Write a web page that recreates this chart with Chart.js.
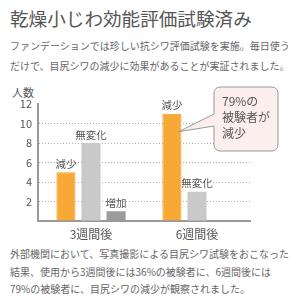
<!DOCTYPE html>
<html>
<head>
<meta charset="utf-8">
<script src="https://cdn.jsdelivr.net/npm/chart.js@4"></script>
<style>
  body { margin: 0; width: 300px; height: 302px; background: #fff; position: relative; overflow: hidden;
         font-family: "Noto Sans CJK JP", sans-serif; color: #666; }
  .t { position: absolute; white-space: nowrap; }
  #title { left: 10px; top: 5px; font-size: 18.6px; color: #555; line-height: 26px; }
  #lead { left: 10px; top: 36px; font-size: 10px; line-height: 20px; }
  #unit { left: 12px; top: 84px; font-size: 11px; color: #555; }
  #foot { left: 10px; top: 245px; font-size: 10px; line-height: 17.5px; }
  #wrap { position: absolute; left: 0; top: 80px; width: 300px; height: 165px; }
</style>
</head>
<body>
<div class="t" id="title">乾燥小じわ効能評価試験済み</div>
<div class="t" id="lead">ファンデーションでは珍しい抗シワ評価試験を実施。毎日使う<br>だけで、目尻シワの減少に効果があることが実証されました。</div>
<div class="t" id="unit">人数</div>
<div id="wrap"><canvas id="bars"></canvas></div>
<div class="t" id="foot">外部機関において、写真撮影による目尻シワ試験をおこなった<br>結果、使用から3週間後には36%の被験者に、6週間後には<br>79%の被験者に、目尻シワの減少が観察されました。</div>
<script>
var periods = ['3週間後', '6週間後'];
var seriesNames = ['減少', '無変化', '増加'];
var decreased = [5, 11];
var unchanged = [8, 3];
var increased = [1, 0];
var yTicks = [0, 2, 4, 6, 8, 10, 12];
var calloutLines = ['79%の', '被験者が', '減少'];

var barLabels = {
    id: 'barLabels',
    afterDatasetsDraw: function(chart) {
        var ctx = chart.ctx;
        ctx.save();
        ctx.font = '10.5px "Noto Sans CJK JP"';
        ctx.fillStyle = '#555';
        ctx.textAlign = 'center';
        ctx.textBaseline = 'bottom';
        chart.data.datasets.forEach(function(ds, i) {
            chart.getDatasetMeta(i).data.forEach(function(bar, j) {
                if (ds.data[j] > 0) ctx.fillText(ds.label, bar.x, bar.y - 3);
            });
        });
        ctx.restore();
    }
};

var callout = {
    id: 'callout',
    afterDraw: function(chart) {
        var bar = chart.getDatasetMeta(0).data[1];
        var ctx = chart.ctx;
        var tipX = bar.x + bar.width / 2 - 3, tipY = bar.y + 18;
        var x = 214, y = 7, w = 64, h = 64, r = 6;
        ctx.save();
        ctx.beginPath();
        ctx.moveTo(x + r, y);
        ctx.lineTo(x + w - r, y);
        ctx.arcTo(x + w, y, x + w, y + r, r);
        ctx.lineTo(x + w, y + h - r);
        ctx.arcTo(x + w, y + h, x + w - r, y + h, r);
        ctx.lineTo(x + r, y + h);
        ctx.arcTo(x, y + h, x, y + h - r, r);
        ctx.lineTo(x, 46);
        ctx.lineTo(tipX, tipY);
        ctx.lineTo(x, 34);
        ctx.lineTo(x, y + r);
        ctx.arcTo(x, y, x + r, y, r);
        ctx.closePath();
        ctx.fillStyle = '#fdeeee';
        ctx.fill();
        ctx.strokeStyle = '#999';
        ctx.lineWidth = 1;
        ctx.stroke();
        ctx.fillStyle = '#555';
        ctx.font = '12px "Noto Sans CJK JP"';
        ctx.textBaseline = 'middle';
        calloutLines.forEach(function(s, i) {
            ctx.fillText(s, x + 8, y + 14 + i * 16);
        });
        ctx.restore();
    }
};

new Chart(document.getElementById('bars'), {
    type: 'bar',
    data: {
        labels: periods,
        datasets: [
            { label: seriesNames[0], data: decreased, backgroundColor: '#f8a935', borderColor: '#f09a20', borderWidth: 1 },
            { label: seriesNames[1], data: unchanged, backgroundColor: '#c9c9c9' },
            { label: seriesNames[2], data: increased, backgroundColor: '#9b9b9b' }
        ]
    },
    options: {
        responsive: true,
        maintainAspectRatio: false,
        animation: false,
        categoryPercentage: 0.71,
        barPercentage: 0.76,
        layout: { padding: { top: 24, right: 50, left: 0, bottom: 0 } },
        plugins: { legend: { display: false }, tooltip: { enabled: false } },
        scales: {
            x: {
                afterFit: function(s) { s.height = 24; },
                grid: { display: false },
                border: { color: '#999', width: 2 },
                ticks: { color: '#555', font: { size: 12, family: 'Noto Sans CJK JP' }, padding: -2 }
            },
            y: {
                min: 0, max: 12,
                afterFit: function(s) { s.width = 38; },
                afterBuildTicks: function(s) { s.ticks = yTicks.map(function(v) { return { value: v }; }); },
                border: { color: '#999', width: 2, dash: [1, 2] },
                grid: {
                    drawTicks: false,
                    color: function(c) { return (c.tick.value === 0 || c.tick.value === 12) ? 'rgba(0,0,0,0)' : '#b0b0b0'; }
                },
                ticks: {
                    color: '#555', padding: 6,
                    font: { size: 11, family: 'Noto Sans CJK JP' },
                    callback: function(v) { return v === 0 ? '' : v; }
                }
            }
        }
    },
    plugins: [barLabels, callout]
});
</script>
</body>
</html>
